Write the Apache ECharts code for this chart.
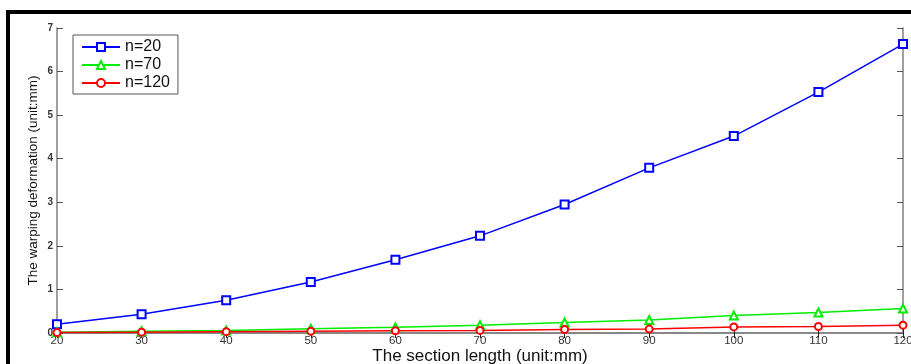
<!DOCTYPE html>
<html>
<head>
<meta charset="utf-8">
<script src="https://cdn.jsdelivr.net/npm/echarts@6/dist/echarts.min.js"></script>
<style>
  html, body { margin: 0; padding: 0; background: #fff; }
  #chart { width: 911px; height: 364px; }
</style>
</head>
<body>
<div id="chart"></div>
<script>
// section length (mm)
const sectionLength = [20, 30, 40, 50, 60, 70, 80, 90, 100, 110, 120];
// warping deformation (mm)
const n20 = [0.20, 0.43, 0.75, 1.17, 1.68, 2.23, 2.95, 3.79, 4.52, 5.53, 6.63];
const n70 = [0.02, 0.04, 0.06, 0.10, 0.13, 0.18, 0.24, 0.30, 0.40, 0.47, 0.56];
const n120 = [0.01, 0.02, 0.03, 0.04, 0.05, 0.06, 0.08, 0.09, 0.14, 0.15, 0.18];

const pairs = ys => sectionLength.map((x, i) => [x, ys[i]]);

const axisGray = '#808080';
const font = 'Liberation Sans, Arial';

const chart = echarts.init(document.getElementById('chart'));
chart.setOption({
  animation: false,
  backgroundColor: '#fff',
  grid: { left: 57, right: 8, top: 28, bottom: 31, outerBoundsMode: 'none', containLabel: false },
  graphic: [{
    type: 'rect', silent: true,
    shape: { x: 8, y: 12, width: 1200, height: 1200 },
    style: { fill: 'none', stroke: '#000', lineWidth: 4 }
  }],
  legend: {
    left: 73, top: 35,
    orient: 'vertical',
    itemGap: 2, itemWidth: 38, itemHeight: 10,
    padding: [4, 8, 3, 8],
    borderColor: '#555', borderWidth: 1,
    backgroundColor: '#fff',
    textStyle: { fontSize: 16, color: '#111', fontFamily: font },
    data: ['n=20', 'n=70', 'n=120']
  },
  xAxis: [{
    type: 'value', min: 20, max: 120, interval: 10,
    name: 'The section length (unit:mm)',
    nameLocation: 'middle', nameGap: 15, nameMoveOverlap: false,
    nameTextStyle: { fontSize: 17, color: '#111', fontFamily: font },
    axisLine: { lineStyle: { color: axisGray, width: 1.5 } },
    axisTick: { inside: true, length: 5, lineStyle: { color: '#222' } },
    axisLabel: { margin: 2, color: '#333', fontSize: 11.5, fontFamily: font },
    splitLine: { show: false }
  }, {
    type: 'value', min: 20, max: 120, interval: 10, position: 'top',
    axisLine: { lineStyle: { color: axisGray, width: 1.5 } },
    axisTick: { inside: true, length: 5, lineStyle: { color: '#222' } },
    axisLabel: { show: false },
    splitLine: { show: false }
  }],
  yAxis: [{
    type: 'value', min: 0, max: 7, interval: 1,
    name: 'The warping deformation (unit:mm)',
    nameLocation: 'middle', nameGap: 17, nameMoveOverlap: false,
    nameTextStyle: { fontSize: 13.5, color: '#111', fontFamily: font },
    axisLine: { show: true, lineStyle: { color: axisGray, width: 1.5 } },
    axisTick: { show: true, inside: true, length: 6, lineStyle: { color: '#555' } },
    axisLabel: { margin: 4, color: '#333', fontSize: 10, fontWeight: 'bold', fontFamily: font },
    splitLine: { show: false }
  }, {
    type: 'value', min: 0, max: 7, interval: 1, position: 'right',
    axisLine: { show: true, lineStyle: { color: axisGray, width: 1.5 } },
    axisTick: { show: true, inside: true, length: 6, lineStyle: { color: '#555' } },
    axisLabel: { show: false },
    splitLine: { show: false }
  }],
  series: [{
    name: 'n=20', type: 'line', data: pairs(n20),
    symbol: 'emptyRect', symbolSize: 8,
    lineStyle: { color: '#0000ff', width: 1.5 },
    itemStyle: { color: '#0000ff', borderWidth: 1.5 }
  }, {
    name: 'n=70', type: 'line', data: pairs(n70),
    symbol: 'emptyTriangle', symbolSize: 8,
    lineStyle: { color: '#00ee00', width: 1.5 },
    itemStyle: { color: '#00ee00', borderWidth: 1.5 }
  }, {
    name: 'n=120', type: 'line', data: pairs(n120),
    symbol: 'emptyCircle', symbolSize: 7,
    lineStyle: { color: '#ff0000', width: 1.5 },
    itemStyle: { color: '#ff0000', borderWidth: 1.5 }
  }]
});
</script>
</body>
</html>
